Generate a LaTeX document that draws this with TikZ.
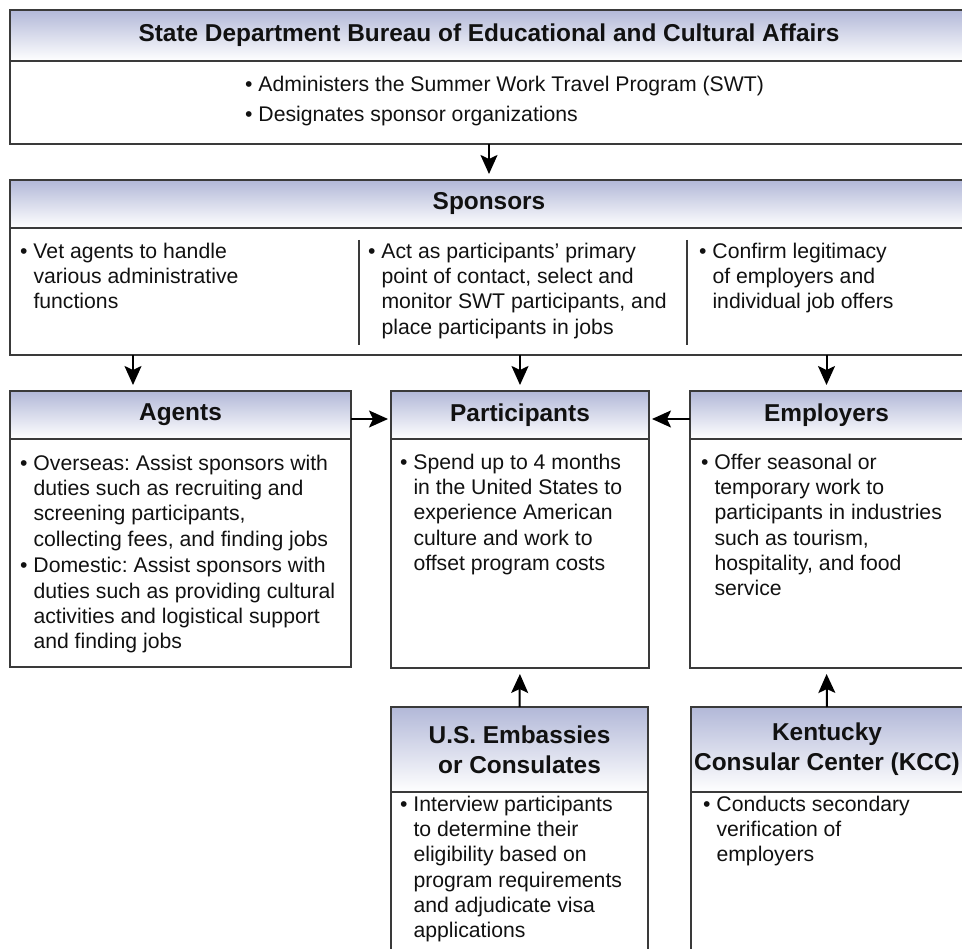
\documentclass[tikz,border=0pt]{standalone}
\usepackage{fontspec}
\setmainfont{Liberation Sans}
\usetikzlibrary{arrows.meta}
\definecolor{hdr}{RGB}{178,184,216}
\definecolor{bord}{RGB}{58,58,58}
\definecolor{txt}{RGB}{17,17,17}
\frenchspacing
\newcommand\ind{\phantom{\textbullet\ }}
\newcommand\tl{\rule{0pt}{17pt}}
\tikzset{
  box/.style={draw=bord, line width=1.6pt, inner sep=0pt, outer sep=0pt, anchor=north west, rectangle},
  hbox/.style={draw=bord, line width=1.6pt, inner sep=0pt, outer sep=0pt, anchor=north west, rectangle,
    top color=hdr, bottom color=white, align=center, text=txt,
    font=\fontsize{24.4}{30}\selectfont\bfseries},
  body/.style={inner sep=0pt, anchor=north west, align=left, text=txt,
    font=\fontsize{21.2}{25.3}\selectfont},
  arr/.style={draw=black, line width=2pt, -{Stealth[length=19pt,width=17pt,inset=4pt]}, shorten >=6pt},
  divline/.style={draw=bord, line width=1.1pt}
}
\begin{document}
\begin{tikzpicture}[x=1pt,y=1pt]
\useasboundingbox (0,0) rectangle (962,-949);
\clip (0,0) rectangle (962,-949);
% State Department
\node[box, minimum width=958, minimum height=134] (dos) at (10,-10) {};
\node[hbox, minimum width=958, minimum height=51] (dosH) at (10,-10) {State Department Bureau of Educational and Cultural Affairs};
\node[body] (dosT) at (245,-74) {\tl\textbullet\ Administers the Summer Work Travel Program (SWT)\\[5.2pt]\textbullet\ Designates sponsor organizations};
% Sponsors
\node[box, minimum width=958, minimum height=175] (spon) at (10,-180) {};
\node[hbox, minimum width=958, minimum height=48] (sponH) at (10,-180) {Sponsors};
\node[body] (sponA) at (20,-241) {\tl\textbullet\ Vet agents to handle\\\ind various administrative\\\ind functions};
\node[body] (sponB) at (368,-241) {\tl\textbullet\ Act as participants’ primary\\\ind point of contact, select and\\\ind monitor SWT participants, and\\\ind place participants in jobs};
\node[body] (sponC) at (699,-241) {\tl\textbullet\ Confirm legitimacy\\\ind of employers and\\\ind individual job offers};
\coordinate (d1t) at (359,-240); \coordinate (d1b) at (359,-345);
\coordinate (d2t) at (687,-240); \coordinate (d2b) at (687,-345);
\draw[divline] (d1t) -- (d1b);
\draw[divline] (d2t) -- (d2b);
% Agents
\node[box, minimum width=341, minimum height=276] (agents) at (10,-391) {};
\node[hbox, minimum width=341, minimum height=48] (agentsH) at (10,-391) {Agents};
\node[body] (agentsT) at (20,-453) {\tl\textbullet\ Overseas: Assist sponsors with\\\ind duties such as recruiting and\\\ind screening participants,\\\ind collecting fees, and finding jobs\\[1.5pt]\textbullet\ Domestic: Assist sponsors with\\\ind duties such as providing cultural\\\ind activities and logistical support\\\ind and finding jobs};
% Participants
\node[box, minimum width=258, minimum height=277] (part) at (391,-391) {};
\node[hbox, minimum width=258, minimum height=48] (partH) at (391,-391) {Participants};
\node[body] (partT) at (400,-452) {\tl\textbullet\ Spend up to 4 months\\\ind in the United States to\\\ind experience American\\\ind culture and work to\\\ind offset program costs};
% Employers
\node[box, minimum width=273, minimum height=277] (empl) at (690,-391) {};
\node[hbox, minimum width=273, minimum height=48] (emplH) at (690,-391) {Employers};
\node[body] (emplT) at (701,-452) {\tl\textbullet\ Offer seasonal or\\\ind temporary work to\\\ind participants in industries\\\ind such as tourism,\\\ind hospitality, and food\\\ind service};
% Embassies
\node[box, minimum width=257, minimum height=260] (emb) at (391,-707) {};
\node[hbox, minimum width=257, minimum height=85] (embH) at (391,-707) {U.S. Embassies\\or Consulates};
\node[body] (embT) at (400,-794) {\tl\textbullet\ Interview participants\\\ind to determine their\\\ind eligibility based on\\\ind program requirements\\\ind and adjudicate visa\\\ind applications};
% KCC
\node[box, minimum width=272, minimum height=260] (kcc) at (691,-707) {};
\node[hbox, minimum width=272, minimum height=85] (kccH) at (691,-707) {Kentucky\\Consular Center (KCC)};
\node[body] (kccT) at (703,-794) {\tl\textbullet\ Conducts secondary\\\ind verification of\\\ind employers};
% connectors
\coordinate (ax) at (133,0);
\coordinate (ay) at (0,-419);
\draw[arr] (dos.south -| dosH.south) -- (spon.north);
\draw[arr] (spon.south -| ax) -- (agents.north -| ax);
\draw[arr] (spon.south -| part.north) -- (part.north);
\draw[arr] (spon.south -| empl.north) -- (empl.north);
\draw[arr, shorten >=3pt] (agents.east |- ay) -- (part.west |- ay);
\draw[arr, shorten >=3pt] (empl.west |- ay) -- (part.east |- ay);
\draw[arr] (emb.north) -- (part.south);
\draw[arr] (kcc.north) -- (empl.south);
\end{tikzpicture}
\end{document}
